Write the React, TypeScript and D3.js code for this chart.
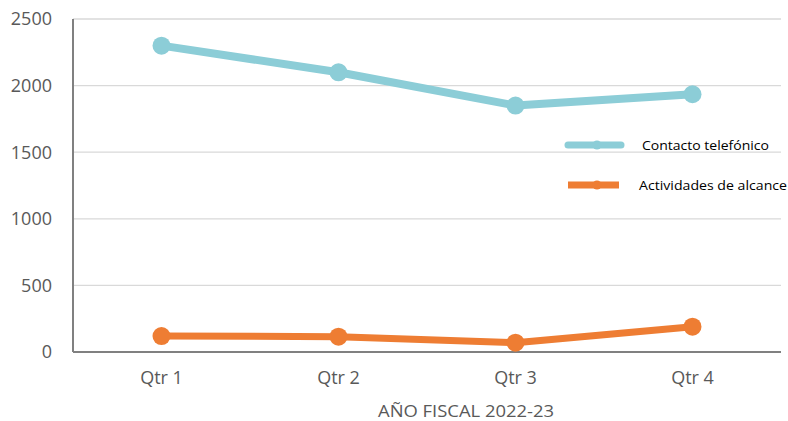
import * as d3 from "d3";
import { useEffect, useRef } from "react";

// trimestres y valores
const quarters = ["Qtr 1", "Qtr 2", "Qtr 3", "Qtr 4"];
const telefono = [2300, 2100, 1850, 1935];
const alcance = [120, 115, 70, 190];
const yTicks = [0, 500, 1000, 1500, 2000, 2500];

const seriesNames = ["Contacto telefónico", "Actividades de alcance"];
const seriesColors = ["#8ccdd7", "#ee7d33"];

const W = 788;
const H = 421;
const margin = { top: 19, right: 7, bottom: 69, left: 73 };

const App = () => {
  const ref = useRef<SVGSVGElement>(null);

  useEffect(() => {
    const svg = d3.select(ref.current);
    svg.selectAll("*").remove();

    const innerW = W - margin.left - margin.right;
    const innerH = H - margin.top - margin.bottom;

    const x = d3.scaleBand().domain(quarters).range([0, innerW]);
    const y = d3.scaleLinear().domain([0, 2500]).range([innerH, 0]);

    const g = svg.append("g").attr("transform", `translate(${margin.left},${margin.top})`);
    const font = "'Open Sans', sans-serif";

    // rejilla
    g.selectAll(".grid")
      .data(yTicks.filter(t => t > 0))
      .enter()
      .append("line")
      .attr("x1", 0)
      .attr("x2", innerW)
      .attr("y1", d => y(d))
      .attr("y2", d => y(d))
      .attr("stroke", "#d9d9d9")
      .attr("stroke-width", 1.3);

    // ejes
    g.append("line")
      .attr("x1", 0).attr("x2", 0)
      .attr("y1", y(2500)).attr("y2", innerH)
      .attr("stroke", "#808080").attr("stroke-width", 2);
    g.append("line")
      .attr("x1", 0).attr("x2", innerW)
      .attr("y1", innerH).attr("y2", innerH)
      .attr("stroke", "#808080").attr("stroke-width", 2);

    g.selectAll(".ytick")
      .data(yTicks)
      .enter()
      .append("text")
      .attr("x", -21)
      .attr("y", d => y(d))
      .attr("dy", "0.35em")
      .attr("text-anchor", "end")
      .attr("font-family", font)
      .attr("font-size", 18)
      .attr("fill", "#595959")
      .text(d => d);

    g.selectAll(".xtick")
      .data(quarters)
      .enter()
      .append("text")
      .attr("x", d => x(d)! + x.bandwidth() / 2)
      .attr("y", innerH + 26)
      .attr("dy", "0.35em")
      .attr("text-anchor", "middle")
      .attr("font-family", font)
      .attr("font-size", 18)
      .attr("fill", "#595959")
      .text(d => d);

    svg.append("text")
      .attr("x", 466)
      .attr("y", 411)
      .attr("dy", "0.35em")
      .attr("text-anchor", "middle")
      .attr("font-family", font)
      .attr("font-size", 17)
      .attr("fill", "#595959")
      .attr("textLength", 176)
      .attr("lengthAdjust", "spacingAndGlyphs")
      .text("AÑO FISCAL 2022-23");

    const line = d3.line<number>()
      .x((_, i) => x(quarters[i])! + x.bandwidth() / 2)
      .y(d => y(d));

    [telefono, alcance].forEach((vals, k) => {
      g.append("path")
        .datum(vals)
        .attr("d", line)
        .attr("fill", "none")
        .attr("stroke", seriesColors[k])
        .attr("stroke-width", k === 0 ? 8 : 7)
        .attr("stroke-linejoin", "round");
      g.selectAll(".dot" + k)
        .data(vals)
        .enter()
        .append("circle")
        .attr("cx", (_, i) => x(quarters[i])! + x.bandwidth() / 2)
        .attr("cy", d => y(d))
        .attr("r", 9)
        .attr("fill", seriesColors[k]);
    });

    // leyenda
    const legY = [145, 185];
    const legX1 = [568, 568];
    const legX2 = [621, 619];
    const textX = [642, 639];
    seriesNames.forEach((name, k) => {
      svg.append("line")
        .attr("x1", legX1[k]).attr("x2", legX2[k])
        .attr("y1", legY[k]).attr("y2", legY[k])
        .attr("stroke", seriesColors[k])
        .attr("stroke-width", 7)
        .attr("stroke-linecap", k === 0 ? "round" : "butt");
      svg.append("circle")
        .attr("cx", 597).attr("cy", legY[k])
        .attr("r", 4.5)
        .attr("fill", seriesColors[k]);
      svg.append("text")
        .attr("x", textX[k])
        .attr("y", legY[k])
        .attr("dy", "0.35em")
        .attr("font-family", font)
        .attr("font-size", 13)
        .attr("fill", "#000")
        .attr("textLength", k === 0 ? 127 : 148)
        .attr("lengthAdjust", "spacingAndGlyphs")
        .text(name);
    });
  }, []);

  return <svg ref={ref} width={W} height={H} style={{ position: "absolute", left: 0, top: 0 }} />;
};

export default App;
